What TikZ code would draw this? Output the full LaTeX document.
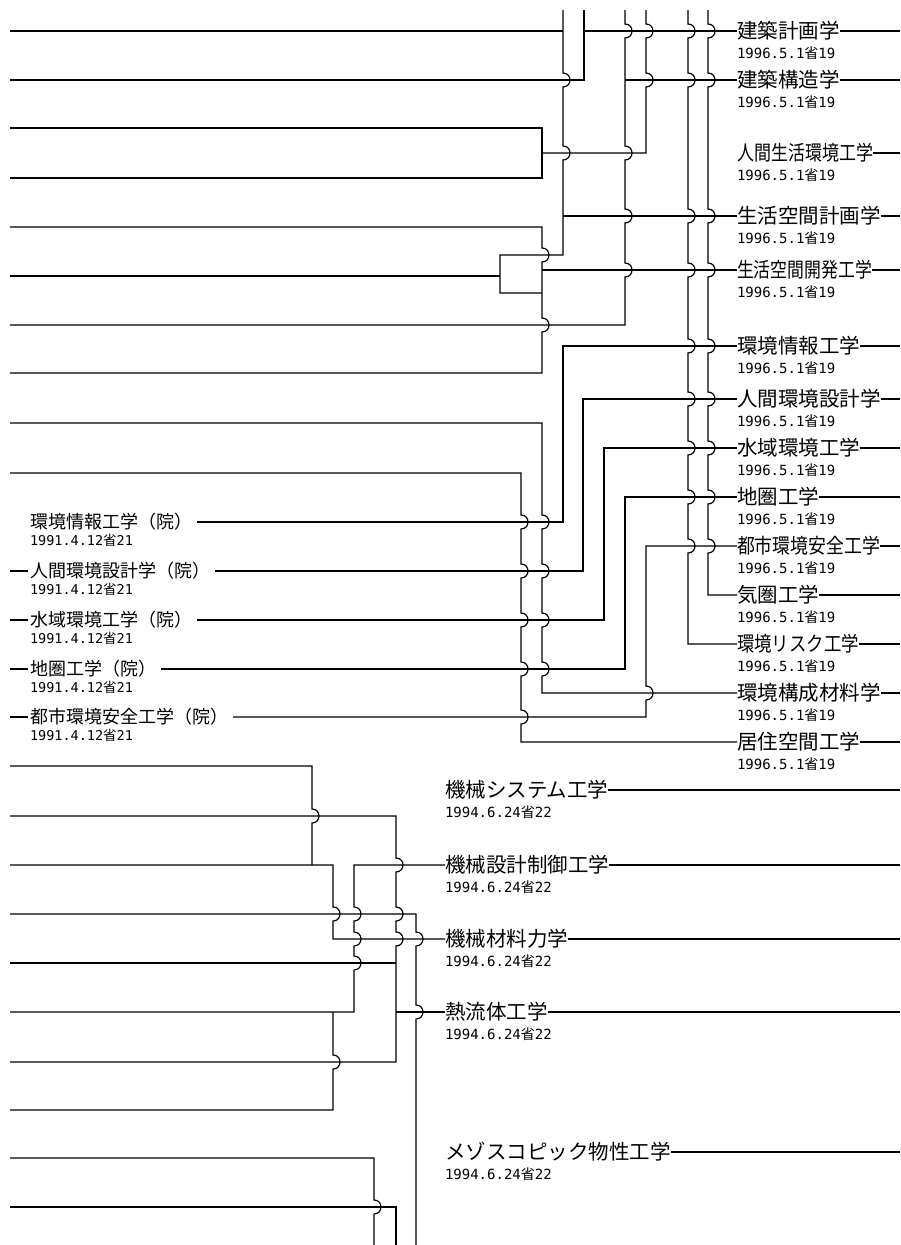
\documentclass[tikz,border=0pt]{standalone}
\usepackage{fontspec}
\usepackage{graphicx}
\newfontfamily\jp{Noto Sans CJK JP}
\newfontfamily\dig{DejaVu Sans Mono}
% bump on a vertical wire going down / up
\newcommand\bd[2]{-- (#1,#2-7) .. controls (#1+9.33,#2-7) and (#1+9.33,#2+7) .. (#1,#2+7)}
\newcommand\bu[2]{-- (#1,#2+7) .. controls (#1+9.33,#2+7) and (#1+9.33,#2-7) .. (#1,#2-7)}
\newcommand\dt[2]{{\dig #1}{\jp 省}{\dig #2}}
\newcommand\fw[2]{\resizebox{#1pt}{\height}{#2}}
\tikzset{
  wire/.style={line width=1.2pt},
  lab/.style={anchor=west, inner sep=0pt, outer sep=0pt, font=\jp\fontsize{20.5}{22}\selectfont},
  llab/.style={anchor=west, inner sep=0pt, outer sep=0pt, font=\jp\fontsize{18}{20}\selectfont},
  dat/.style={anchor=west, inner sep=0pt, outer sep=0pt, font=\fontsize{14}{16}\selectfont},
  ldat/.style={anchor=west, inner sep=0pt, outer sep=0pt, font=\fontsize{13.5}{15}\selectfont},
}
% right / bottom label: name, x, y, text, date
\newcommand\rlab[5]{%
  \node[lab] (#1) at (#2,#3) {#4};
  \node[dat] (#1d) at (#2,#3+22) {#5};
  \draw[wire] (#1.east) -- (900,#3);}
\newcommand\llabel[3]{%
  \node[llab] (#1) at (30,#2) {#3};
  \node[ldat] (#1d) at (30,#2+18) {\dt{1991.4.12}{21}};}
\begin{document}
\begin{tikzpicture}[x=1pt,y=-1pt]
\fill[white] (0,0) rectangle (901,1245);
\useasboundingbox (0,0) rectangle (901,1245);

% ---------- right labels ----------
\rlab{R1}{737}{31}{建築計画学}{\dt{1996.5.1}{19}}
\rlab{R2}{737}{80}{建築構造学}{\dt{1996.5.1}{19}}
\rlab{R3}{737}{153}{\fw{136}{人間生活環境工学}}{\dt{1996.5.1}{19}}
\rlab{R4}{737}{216}{生活空間計画学}{\dt{1996.5.1}{19}}
\rlab{R5}{737}{270}{\fw{135}{生活空間開発工学}}{\dt{1996.5.1}{19}}
\rlab{R6}{737}{346}{環境情報工学}{\dt{1996.5.1}{19}}
\rlab{R7}{737}{399}{人間環境設計学}{\dt{1996.5.1}{19}}
\rlab{R8}{737}{448}{水域環境工学}{\dt{1996.5.1}{19}}
\rlab{R9}{737}{497}{地圏工学}{\dt{1996.5.1}{19}}
\rlab{R10}{737}{546}{\fw{143}{都市環境安全工学}}{\dt{1996.5.1}{19}}
\rlab{R11}{737}{595}{気圏工学}{\dt{1996.5.1}{19}}
\rlab{R12}{737}{644}{\fw{122}{環境リスク工学}}{\dt{1996.5.1}{19}}
\rlab{R13}{737}{693}{環境構成材料学}{\dt{1996.5.1}{19}}
\rlab{R14}{737}{742}{居住空間工学}{\dt{1996.5.1}{19}}

% ---------- bottom labels ----------
\rlab{B1}{445}{790}{機械システム工学}{\dt{1994.6.24}{22}}
\rlab{B2}{445}{865}{機械設計制御工学}{\dt{1994.6.24}{22}}
\rlab{B3}{445}{939}{機械材料力学}{\dt{1994.6.24}{22}}
\rlab{B4}{445}{1012}{熱流体工学}{\dt{1994.6.24}{22}}
\rlab{B5}{445}{1152}{メゾスコピック物性工学}{\dt{1994.6.24}{22}}

% ---------- left labels ----------
\llabel{L1}{522}{環境情報工学（院）}
\llabel{L2}{571}{人間環境設計学（院）}
\llabel{L3}{620}{水域環境工学（院）}
\llabel{L4}{669}{地圏工学（院）}
\llabel{L5}{717}{都市環境安全工学（院）}
\draw[wire] (10,571) -- ([xshift=-2pt]L2.west);
\draw[wire] (10,620) -- ([xshift=-2pt]L3.west);
\draw[wire] (10,669) -- ([xshift=-2pt]L4.west);
\draw[wire] (10,717) -- ([xshift=-2pt]L5.west);

% ---------- top section ----------
\draw[wire] (10,31) -- (563,31);
\draw[wire] (563,10) \bd{563}{80} \bd{563}{153} -- (563,255) -- (500,255) -- (500,293) -- (542,293);
\draw[wire] (563,216) -- (R4.west);
\draw[wire] (10,276) -- (500,276);
\draw[wire] (10,80) -- (584,80) -- (584,10);
\draw[wire] (584,31) -- (R1.west);
\draw[wire] (625,10) \bd{625}{31} \bd{625}{153} \bd{625}{216} \bd{625}{270} -- (625,325) -- (10,325);
\draw[wire] (625,80) -- (R2.west);
\draw[wire] (646,10) \bd{646}{31} \bd{646}{80} -- (646,153) -- (542,153);
\draw[wire] (10,128) -- (542,128) -- (542,178) -- (10,178);
\draw[wire] (10,227) -- (542,227) \bd{542}{255} \bd{542}{325} -- (542,373) -- (10,373);
\draw[wire] (542,270) -- (R5.west);
\draw[wire] (688,10) \bd{688}{31} \bd{688}{80} \bd{688}{216} \bd{688}{270} \bd{688}{346} \bd{688}{399} \bd{688}{448} \bd{688}{497} \bd{688}{546} -- (688,644) -- (R12.west);
\draw[wire] (708,10) \bd{708}{31} \bd{708}{80} \bd{708}{216} \bd{708}{270} \bd{708}{346} \bd{708}{399} \bd{708}{448} \bd{708}{497} \bd{708}{546} -- (708,595) -- (R11.west);

% ---------- middle section ----------
\draw[wire] (R6.west) -- (563,346) -- (563,522) -- ([xshift=5pt]L1.east);
\draw[wire] (R7.west) -- (583,399) -- (583,571) -- ([xshift=5pt]L2.east);
\draw[wire] (R8.west) -- (604,448) -- (604,620) -- ([xshift=5pt]L3.east);
\draw[wire] (R9.west) -- (625,497) -- (625,669) -- ([xshift=5pt]L4.east);
\draw[wire] (R10.west) -- (646,546) \bd{646}{693} -- (646,717) -- ([xshift=5pt]L5.east);
\draw[wire] (10,423) -- (542,423) \bd{542}{522} \bd{542}{571} \bd{542}{620} \bd{542}{669} -- (542,693) -- (R13.west);
\draw[wire] (10,473) -- (521,473) \bd{521}{522} \bd{521}{571} \bd{521}{620} \bd{521}{669} \bd{521}{717} -- (521,742) -- (R14.west);

% ---------- bottom section ----------
\draw[wire] (10,766) -- (312,766) \bd{312}{816} -- (312,865);
\draw[wire] (10,865) -- (333,865) \bd{333}{914} -- (333,939) -- (B3.west);
\draw[wire] (10,816) -- (396,816) \bd{396}{865} \bd{396}{914} \bd{396}{939} -- (396,1062) -- (10,1062);
\draw[wire] (10,963) -- (396,963);
\draw[wire] (396,1012) -- (B4.west);
\draw[wire] (10,1012) -- (354,1012) \bu{354}{963} \bu{354}{939} \bu{354}{914} -- (354,865) -- (B2.west);
\draw[wire] (10,914) -- (416,914) \bd{416}{939} \bd{416}{1012} -- (416,1245);
\draw[wire] (333,1012) \bd{333}{1062} -- (333,1110) -- (10,1110);
\draw[wire] (10,1158) -- (374,1158) \bd{374}{1207} -- (374,1245);
\draw[wire] (10,1207) -- (396,1207) -- (396,1245);
\end{tikzpicture}
\end{document}
